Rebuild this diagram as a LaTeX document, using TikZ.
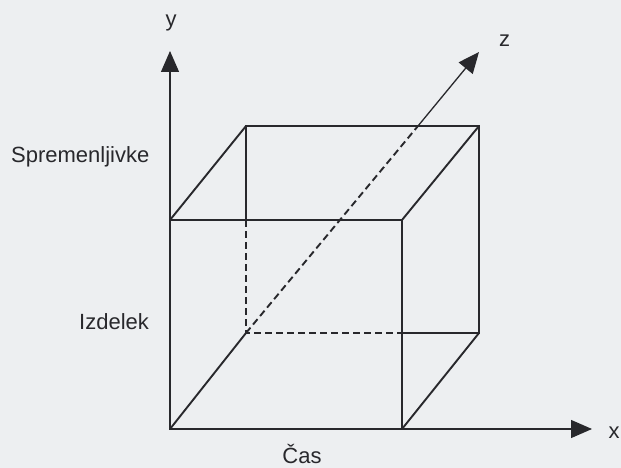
\documentclass[tikz,border=0pt]{standalone}
\usepackage{fontspec}
\setmainfont{Liberation Sans}
\usetikzlibrary{arrows.meta}
\definecolor{paper}{RGB}{237,239,241}
\definecolor{ink}{RGB}{40,40,44}
\tikzset{
  edge/.style={draw=ink, line width=1.9pt},
  hidden/.style={draw=ink, line width=1.9pt, dash pattern=on 7pt off 4pt},
  axis/.style={draw=ink, line width=1.3pt, -{Triangle[length=21pt,width=18pt]}},
  lbl/.style={inner sep=0pt, text=ink, font=\fontsize{22}{26}\selectfont},
}
\begin{document}
\begin{tikzpicture}[x=1pt,y=-1pt]
\fill[paper] (0,0) rectangle (621,468);
\useasboundingbox (0,0) rectangle (621,468);
% cube vertices
\coordinate (O) at (170,429);   % front bottom left (origin)
\coordinate (FBR) at (402,429);
\coordinate (FTL) at (170,220);
\coordinate (FTR) at (402,220);
\coordinate (B) at (246,333);   % back bottom left
\coordinate (BBR) at (479,333);
\coordinate (BTL) at (246,126);
\coordinate (BTR) at (479,126);
\coordinate (BLm) at (246,220); % back left edge meets front top edge
\coordinate (BBm) at (402,333); % back bottom edge meets front right edge
\coordinate (Zc) at (418,126);  % z axis crosses back top edge
% axis tips
\coordinate (Y) at (170,51);
\coordinate (X) at (592,429);
\coordinate (Z) at (479,52);
% axes
\draw[axis] (O) -- (Y);
\draw[axis] (O) -- (X);
\draw[edge] (O) -- (B);
\draw[hidden] (B) -- (Zc);
\draw[axis] (Zc) -- (Z);
% front face
\draw[edge] (O) -- (FBR) -- (FTR) -- (FTL) -- cycle;
% back face visible edges
\draw[edge] (BLm) -- (BTL) -- (BTR) -- (BBR) -- (BBm);
\draw[hidden] (BLm) -- (B) -- (BBm);
% connecting edges
\draw[edge] (FTL) -- (BTL);
\draw[edge] (FTR) -- (BTR);
\draw[edge] (FBR) -- (BBR);
% labels
\node[lbl, anchor=base] (ly) at (171,27) {y};
\node[lbl, anchor=base] (lz) at (504.5,46.5) {z};
\node[lbl, anchor=base] (lx) at (614,438) {x};
\node[lbl, anchor=base west] (ls) at (11,162) {Spremenljivke};
\node[lbl, anchor=base west] (li) at (79,329) {Izdelek};
\node[lbl, anchor=base] (lc) at (302,463) {Čas};
\end{tikzpicture}
\end{document}
